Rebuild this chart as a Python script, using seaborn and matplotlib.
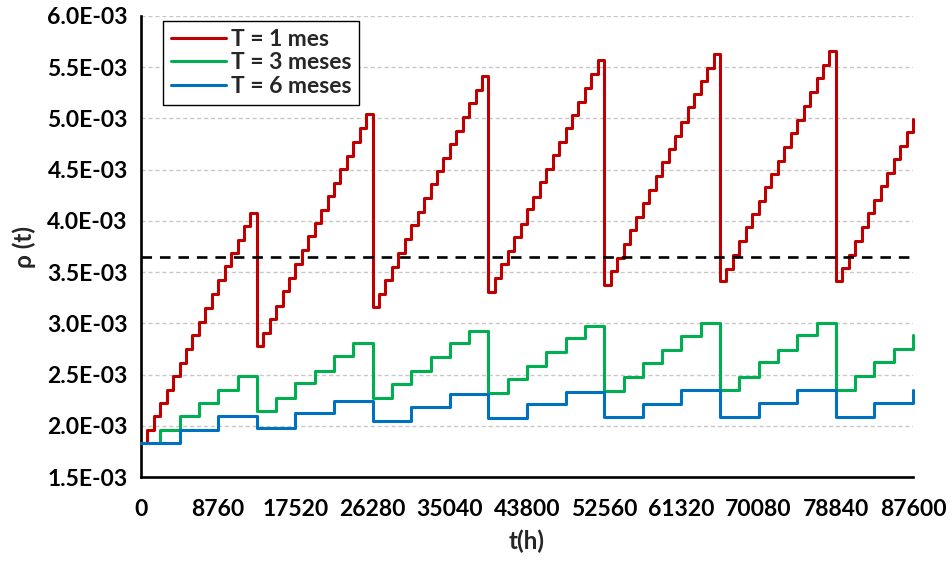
import numpy as np
import pandas as pd
import matplotlib
matplotlib.use("Agg")
import matplotlib.pyplot as plt
from matplotlib.ticker import FuncFormatter
from matplotlib.lines import Line2D
import seaborn as sns

# ---------------- data (rho values in units of 1E-03) ----------------
HOURS_MONTH = 730
HOURS_QUARTER = 2190
HOURS_SEMESTER = 4380

rho_1mes = [
    1.830, 1.954, 2.092, 2.222, 2.346, 2.484, 2.614, 2.745, 2.886, 3.016, 3.147, 3.284, 3.425, 3.556, 3.686, 3.817, 3.954, 4.078,
    2.779, 2.910, 3.043, 3.174, 3.311, 3.441, 3.578, 3.712, 3.849, 3.979, 4.110, 4.240, 4.370, 4.507, 4.631, 4.771, 4.902, 5.039,
    3.156, 3.283, 3.423, 3.553, 3.690, 3.820, 3.960, 4.091, 4.227, 4.358, 4.491, 4.618, 4.748, 4.882, 5.012, 5.149, 5.279, 5.419,
    3.309, 3.446, 3.579, 3.706, 3.846, 3.970, 4.113, 4.237, 4.377, 4.504, 4.644, 4.774, 4.911, 5.035, 5.165, 5.302, 5.432, 5.572,
    3.376, 3.506, 3.636, 3.776, 3.913, 4.036, 4.173, 4.303, 4.440, 4.570, 4.700, 4.833, 4.970, 5.107, 5.237, 5.370, 5.497, 5.630,
    3.409, 3.529, 3.669, 3.799, 3.936, 4.066, 4.199, 4.329, 4.456, 4.589, 4.720, 4.856, 4.986, 5.126, 5.256, 5.393, 5.523, 5.660,
    3.409, 3.539, 3.669, 3.805, 3.936, 4.075, 4.206, 4.336, 4.466, 4.606, 4.733, 4.872, 4.996,
]
rho_3meses = [
    1.830, 1.954, 2.092, 2.222, 2.346, 2.487,
    2.143, 2.274, 2.414, 2.538, 2.681, 2.805,
    2.274, 2.404, 2.537, 2.668, 2.804, 2.928,
    2.322, 2.453, 2.586, 2.716, 2.853, 2.977,
    2.342, 2.475, 2.612, 2.742, 2.878, 3.008,
    2.351, 2.481, 2.618, 2.742, 2.888, 3.008,
    2.351, 2.488, 2.618, 2.751, 2.888,
]
rho_6meses = [
    1.830, 1.954, 2.092,
    1.980, 2.121, 2.245,
    2.049, 2.186, 2.309,
    2.072, 2.208, 2.332,
    2.085, 2.211, 2.351,
    2.085, 2.221, 2.351,
    2.085, 2.221, 2.351,
]
rho_limite = 3.645

series_names = ["T = 1 mes", "T = 3 meses", "T = 6 meses"]
series_colors = ["#C00000", "#00B050", "#0070C0"]
x_ticks = [0, 8760, 17520, 26280, 35040, 43800, 52560, 61320, 70080, 78840, 87600]
y_ticks = [1.5e-3, 2.0e-3, 2.5e-3, 3.0e-3, 3.5e-3, 4.0e-3, 4.5e-3, 5.0e-3, 5.5e-3, 6.0e-3]

frames = []
for name, vals, step in zip(series_names, [rho_1mes, rho_3meses, rho_6meses],
                            [HOURS_MONTH, HOURS_QUARTER, HOURS_SEMESTER]):
    frames.append(pd.DataFrame({
        "t": np.arange(len(vals)) * step,
        "rho": np.array(vals) * 1e-3,
        "serie": name,
    }))
df = pd.concat(frames, ignore_index=True)

# ---------------- style ----------------
sns.set_style("white")
plt.rcParams["font.family"] = ["Lato", "DejaVu Sans"]
plt.rcParams["font.weight"] = "bold"

FS = 16.5

fig = plt.figure(figsize=(9.52, 5.65), dpi=100)
ax = fig.add_axes([141 / 952, 1 - 477 / 565, 772 / 952, 461 / 565])

sns.lineplot(data=df, x="t", y="rho", hue="serie", hue_order=series_names,
             palette=series_colors, drawstyle="steps-post", linewidth=2.2,
             estimator=None, sort=False, legend=False, ax=ax, clip_on=False, zorder=3)

ax.axhline(rho_limite * 1e-3, color="black", linewidth=1.9,
           linestyle=(0, (4, 3)), zorder=4)

ax.set_xlim(0, 87600)
ax.set_ylim(1.5e-3, 6.0e-3)
ax.set_xticks(x_ticks)
ax.set_yticks(y_ticks)
ax.yaxis.set_major_formatter(FuncFormatter(lambda v, p: format(v, ".1E")))
ax.xaxis.set_major_formatter(FuncFormatter(lambda v, p: f"{int(round(v))}"))

ax.grid(axis="y", color="#C8C8C8", linestyle=(0, (3, 2)), linewidth=1.0, zorder=0)
ax.grid(axis="x", visible=False)
ax.set_axisbelow(True)

for side in ["top", "right"]:
    ax.spines[side].set_visible(False)
for side in ["left", "bottom"]:
    ax.spines[side].set_color("black")
    ax.spines[side].set_linewidth(1.9)

ax.tick_params(axis="both", direction="inout", length=9, width=1.6, color="black",
               labelsize=FS, labelcolor="black")
ax.tick_params(axis="x", pad=11)
ax.tick_params(axis="y", pad=5)
for lbl in ax.get_xticklabels() + ax.get_yticklabels():
    lbl.set_fontweight("bold")

ax.set_xlabel("t(h)", fontsize=FS + 1, fontweight="bold", labelpad=7)
ax.set_ylabel("ρ (t)", fontsize=FS + 1, fontweight="bold", labelpad=8)

handles = [Line2D([0], [0], color=c, linewidth=2.2) for c in series_colors]
leg = ax.legend(handles, series_names, loc="upper left", bbox_to_anchor=(0.0285, 0.99),
                borderaxespad=0, frameon=True, fancybox=False, framealpha=1,
                edgecolor="black", handlelength=2.4, handletextpad=0.2,
                labelspacing=0.12, borderpad=0.35,
                prop={"weight": "bold", "size": FS})
leg.get_frame().set_linewidth(1.0)
leg.set_zorder(10)

fig.savefig("out.png", dpi=100)
